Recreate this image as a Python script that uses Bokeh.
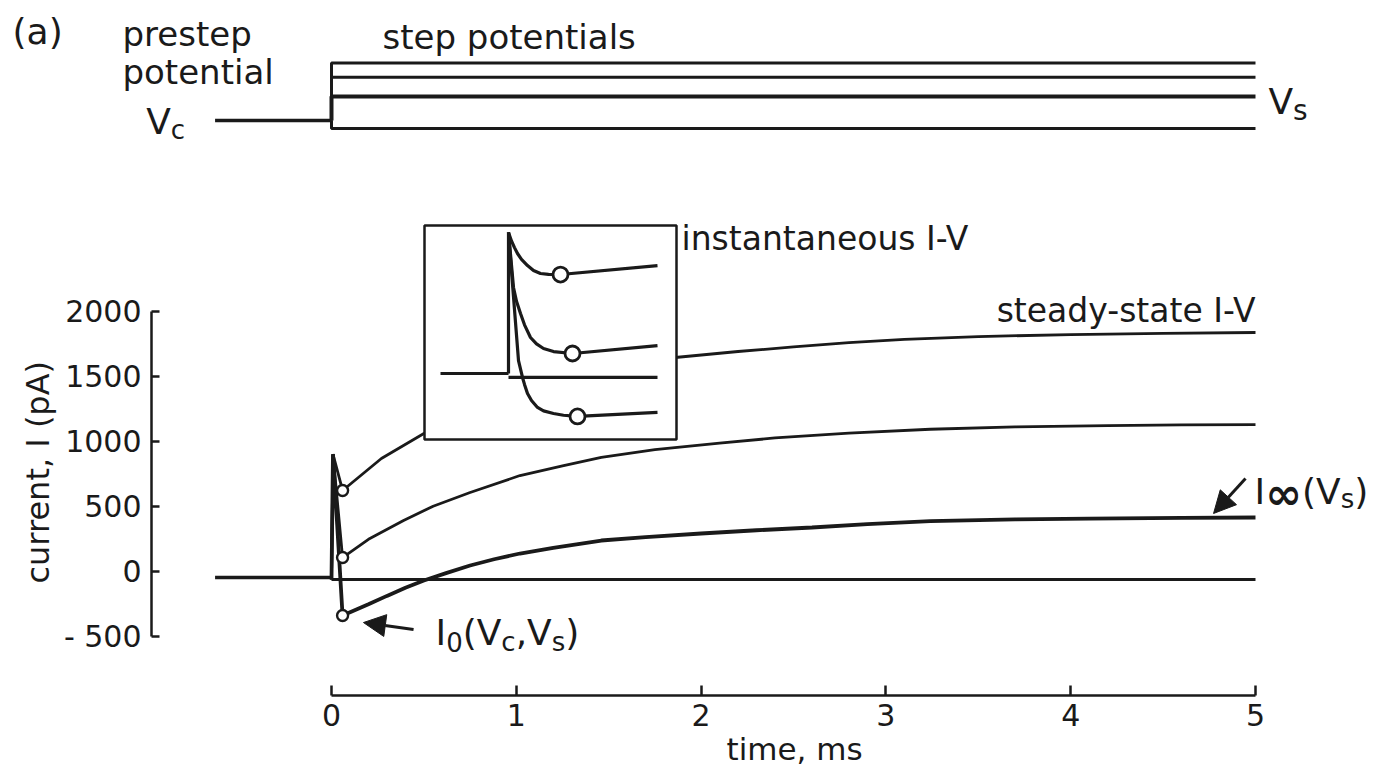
from bokeh.plotting import figure
from bokeh.layouts import column
from bokeh.models import Range1d, FixedTicker, Label, Arrow, NormalHead, Title
from bokeh.embed import file_html
from bokeh.resources import INLINE

# ---------------- data ----------------
# command potentials (mV)
v_hold = -60.0
v_steps = [-24.0, -33.0, -45.0, -65.0]
v_step_widths = [3.0, 3.0, 4.0, 3.0]
t_prestep = [-0.63, 0.0]
t_end = 5.0

# holding current before the step and after the smallest step (pA)
i_hold_pre = -48.0
i_hold_post = -64.0

# current responses to the three depolarising steps (time in ms, current in pA)
t_top = [0.0, 0.008, 0.06, 0.27, 0.5, 1.0, 1.5, 1.86, 2.2, 2.5, 2.8, 3.1, 3.5, 4.0, 4.5, 5.0]
i_top = [-64, 900, 621, 867, 1059, 1380, 1560, 1644, 1690, 1725, 1758, 1783, 1805, 1820, 1830, 1836]

t_mid = [0.0, 0.008, 0.06, 0.2, 0.39, 0.55, 0.75, 1.02, 1.25, 1.46, 1.75, 2.1, 2.4, 2.8, 3.24, 3.7,
         4.2, 4.6, 5.0]
i_mid = [-64, 900, 105, 245, 390, 500, 605, 736, 810, 875, 935, 985, 1025, 1062, 1092, 1110,
         1120, 1125, 1128]

t_bot = [0.0, 0.008, 0.06, 0.2, 0.3, 0.4, 0.5, 0.62, 0.75, 0.88, 1.02, 1.2, 1.46, 1.7, 2.0, 2.3,
         2.6, 2.9, 3.24, 3.7, 4.1, 4.6, 5.0]
i_bot = [-64, 900, -341, -255, -190, -128, -72, -15, 44, 92, 136, 180, 236, 262, 290, 315,
         336, 362, 385, 398, 405, 410, 413]

# instantaneous currents I0 sampled just after the step
t_inst = [0.06, 0.06, 0.06]
i_inst = [621, 105, -341]

# expanded view of the first 150 microseconds
ins_t_pre = [-0.068, 0.0]
ins_i_pre = [-31, -31]
ins_t_post = [0.0, 0.149]
ins_i_post = [-58, -58]
ins_t_top = [0.0, 0.0, 0.003, 0.006, 0.009, 0.013, 0.019, 0.025, 0.032, 0.040, 0.052, 0.149]
ins_i_top = [-31, 928, 870, 825, 785, 745, 703, 670, 649, 643, 642, 703]
ins_t_mid = [0.0, 0.002, 0.005, 0.008, 0.012, 0.016, 0.022, 0.028, 0.035, 0.045, 0.064, 0.149]
ins_i_mid = [928, 780, 554, 460, 377, 300, 214, 170, 139, 118, 105, 159]
ins_t_bot = [0.0, 0.005, 0.010, 0.014, 0.016, 0.019, 0.023, 0.029, 0.035, 0.045, 0.055, 0.069, 0.149]
ins_i_bot = [928, 490, 57, -58, -105, -167, -215, -262, -285, -303, -315, -323, -296]
ins_t_inst = [0.052, 0.064, 0.069]
ins_i_inst = [642, 105, -323]

# axis ticks
x_ticks = [0, 1, 2, 3, 4, 5]
y_ticks = [-500, 0, 500, 1000, 1500, 2000]

# ---------------- styling ----------------
INK = "#1a1a1a"
FONT = "DejaVu Sans"


def bare(fig):
    fig.outline_line_color = None
    fig.grid.visible = False
    fig.background_fill_color = "white"
    fig.border_fill_color = "white"


def label(fig, x, y, text, size, align="left", dx=0, dy=0, style="normal"):
    # anchor is the text baseline; lift by the font descent
    fig.add_layout(Label(x=x, y=y, x_offset=dx, y_offset=dy + 0.3 * size, text=text,
                         text_font=FONT, text_font_size=f"{size}px", text_font_style=style,
                         text_color=INK, text_align=align, text_baseline="alphabetic"))


# advance widths (em) of the glyphs used in the composed labels
ADV = {"I": 0.295, "0": 0.636, "(": 0.390, ")": 0.390, "V": 0.684,
       "c": 0.550, ",": 0.318, "s": 0.521, "∞": 0.838}


def compose(fig, x, y, pieces):
    dx = 0.0
    for text, size, dy, style in pieces:
        label(fig, x, y, text, size, dx=dx, dy=dy, style=style)
        dx += sum(ADV.get(ch, 0.6) for ch in text) * size


# ================= command voltage strip =================
top = figure(width=1378, height=215, x_range=Range1d(-1.7911, 5.6656), y_range=Range1d(-119.375, 15.0),
             output_backend="svg", toolbar_location=None,
             min_border_left=0, min_border_right=0, min_border_top=0, min_border_bottom=0)
top.axis.visible = False
top.frame_align = False
bare(top)

top.line(t_prestep, [v_hold, v_hold], line_color=INK, line_width=3.5)
for v, w in zip(v_steps, v_step_widths):
    top.line([0.0, 0.0, t_end], [v_hold, v, v], line_color=INK, line_width=w)

label(top, -1.726, -11.25, "(a)", 36)
label(top, -1.131, -12.5, "prestep", 34)
label(top, -1.131, -36.25, "potential", 34)
label(top, 0.276, -14.4, "step potentials", 34)
compose(top, -1.003, -67.5, [("V", 36, 0, "normal"), ("c", 26, -5, "normal")])
compose(top, 5.070, -55.0, [("V", 36, 0, "normal"), ("s", 28, -6, "normal")])

# ================= current traces =================
p = figure(
    width=1378, height=559,
    x_range=Range1d(-0.974, 5.6656), y_range=Range1d(-956.2, 2736.2),
    output_backend="svg", toolbar_location=None,
    min_border_left=151, min_border_bottom=79, min_border_top=0, min_border_right=0,
)
p.frame_align = False
bare(p)

# extra coordinate system for the inset
p.extra_x_ranges = {"ins_t": Range1d(-0.357, 0.870)}
p.extra_y_ranges = {"ins_i": Range1d(-2220.6, 1043.4)}

# axes: detached range-frame style, ticks pointing inwards
for ax in (p.xaxis[0], p.yaxis[0]):
    ax.axis_line_width = 2.5
    ax.axis_line_color = INK
    ax.major_tick_line_width = 2.5
    ax.major_tick_line_color = INK
    ax.major_tick_out = 0
    ax.minor_tick_line_color = None
    ax.major_label_text_font = FONT
    ax.major_label_text_color = INK

xa = p.xaxis[0]
xa.ticker = FixedTicker(ticks=x_ticks)
xa.bounds = (x_ticks[0], x_ticks[-1])
xa.major_tick_in = 10
xa.major_label_text_font_size = "30px"
xa.major_label_standoff = 8

ya = p.yaxis[0]
ya.ticker = FixedTicker(ticks=y_ticks)
ya.bounds = (y_ticks[0], y_ticks[-1])
ya.major_tick_in = 8
ya.major_label_text_font_size = "30px"
ya.major_label_standoff = 10
ya.major_label_overrides = {-500: "- 500"}

# axis titles, placed along the drawn extent of each axis
p.add_layout(Title(text="current, I (pA)", align="left", offset=112, standoff=8,
                   text_font=FONT, text_font_size="32px", text_font_style="normal",
                   text_color=INK), "left")
p.add_layout(Title(text="time, ms", align="left", offset=575, standoff=0,
                   text_font=FONT, text_font_size="31px", text_font_style="normal",
                   text_color=INK), "below")

p.line(t_prestep, [i_hold_pre, i_hold_pre], line_color=INK, line_width=3.5)
p.line([0.0, t_end], [i_hold_post, i_hold_post], line_color=INK, line_width=2.8)
p.line(t_top, i_top, line_color=INK, line_width=2.8)
p.line(t_mid, i_mid, line_color=INK, line_width=2.8)
p.line(t_bot, i_bot, line_color=INK, line_width=3.8)
p.scatter(t_inst, i_inst, size=11, marker="circle", fill_color="white", line_color=INK, line_width=2.4)

# ---- inset: expanded start of the traces ----
p.quad(left=[-0.084], right=[0.168], bottom=[-480], top=[975],
       x_range_name="ins_t", y_range_name="ins_i",
       fill_color="white", line_color=INK, line_width=2.5)
ins = dict(x_range_name="ins_t", y_range_name="ins_i", line_color=INK, line_width=3.2)
p.line(ins_t_pre, ins_i_pre, **ins)
p.line(ins_t_post, ins_i_post, **ins)
p.line(ins_t_top, ins_i_top, **ins)
p.line(ins_t_mid, ins_i_mid, **ins)
p.line(ins_t_bot, ins_i_bot, **ins)
p.scatter(ins_t_inst, ins_i_inst, size=15, marker="circle", x_range_name="ins_t", y_range_name="ins_i",
          fill_color="white", line_color=INK, line_width=2.8)

label(p, 1.894, 2482, "instantaneous I-V", 33)
label(p, 5.0, 1928, "steady-state I-V", 33, align="right")

compose(p, 0.563, -556, [("I", 36, 0, "normal"), ("0", 26, -6, "normal"), ("(V", 36, 0, "normal"),
                         ("c", 26, -6, "normal"), (",V", 36, 0, "normal"), ("s", 26, -6, "normal"),
                         (")", 36, 0, "normal")])
compose(p, 4.995, 528, [("I", 36, 0, "normal"), ("∞", 44, -4, "bold"), ("(V", 36, 0, "normal"),
                        ("s", 26, -4, "normal"), (")", 36, 0, "normal")])

# pointers to the instantaneous and steady-state currents
head = dict(size=22, fill_color=INK, line_color=INK, line_width=1)
p.add_layout(Arrow(end=NormalHead(**head), x_start=0.444, y_start=-448, x_end=0.173, y_end=-395,
                   line_color=INK, line_width=3))
p.add_layout(Arrow(end=NormalHead(**head), x_start=4.946, y_start=713, x_end=4.773, y_end=444,
                   line_color=INK, line_width=3))

layout = column(top, p, spacing=0)
open("out.html", "w").write(file_html(layout, INLINE))
